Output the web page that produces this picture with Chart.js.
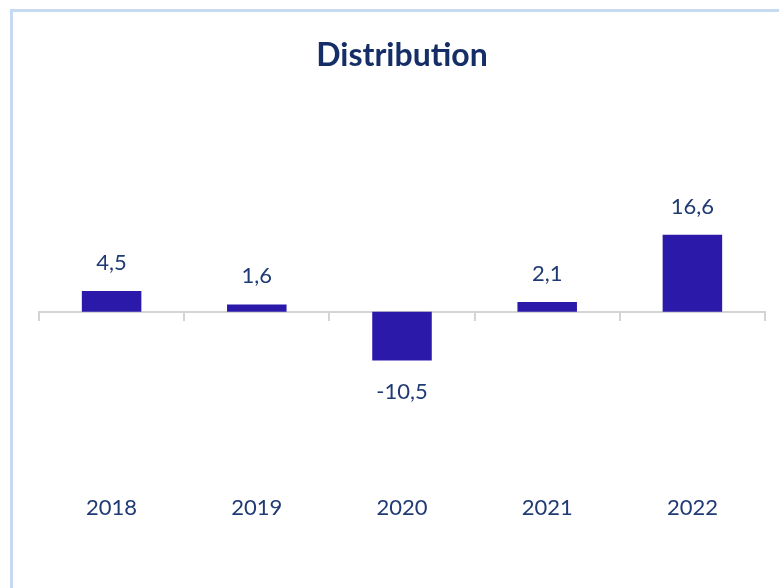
<!DOCTYPE html>
<html>
<head>
<meta charset="utf-8">
<script src="https://cdn.jsdelivr.net/npm/chart.js@4.4.1/dist/chart.umd.min.js"></script>
<style>
  html, body { margin: 0; padding: 0; background: #fff; }
  #wrap { position: relative; width: 779px; height: 588px; overflow: hidden; }
  #frame {
    position: absolute; left: 10px; top: 9px; width: 900px; height: 700px;
    border: 3px solid #c6daf1; box-sizing: border-box;
  }
  canvas { position: absolute; left: 0; top: 0; }
</style>
</head>
<body>
<div id="wrap">
  <div id="frame"></div>
  <canvas id="chart" width="779" height="588"></canvas>
</div>
<script>
// chart values
const years = ["2018", "2019", "2020", "2021", "2022"];
const values = [4.5, 1.6, -10.5, 2.1, 16.6];

const textColor = "#1f3a74";
const axisColor = "#d4d4d4";

// value labels above / below each bar, comma as decimal mark
const valueLabels = {
  id: "valueLabels",
  afterDatasetsDraw(chart) {
    const ctx = chart.ctx;
    const meta = chart.getDatasetMeta(0);
    ctx.save();
    ctx.font = "22px Lato";
    ctx.fillStyle = textColor;
    ctx.textAlign = "center";
    ctx.textBaseline = "middle";
    meta.data.forEach((bar, i) => {
      const v = values[i];
      const txt = v.toFixed(1).replace(".", ",");
      const y = v >= 0 ? bar.y - 28 : bar.y + 31;
      ctx.fillText(txt, bar.x, y);
    });
    ctx.restore();
  },
};

new Chart(document.getElementById("chart"), {
  type: "bar",
  data: {
    labels: years,
    datasets: [
      {
        data: values,
        backgroundColor: "#2b1aa9",
        borderWidth: 0,
        categoryPercentage: 1,
        barPercentage: 0.41,
      },
    ],
  },
  options: {
    responsive: false,
    animation: false,
    layout: { padding: { left: 39, right: 14, top: 0, bottom: 69 } },
    plugins: {
      legend: { display: false },
      tooltip: { enabled: false },
      title: {
        display: true,
        text: "Distribution",
        color: "#152f66",
        font: { family: "Lato", size: 32, weight: "bold", lineHeight: 1.2 },
        padding: { top: 36, bottom: 144.6 },
      },
    },
    scales: {
      y: {
        display: false,
        min: -40,
        max: 20,
      },
      x: {
        grid: { display: false, drawTicks: false },
        border: { display: false },
        ticks: {
          color: textColor,
          padding: -2.4,
          font: { family: "Lato", size: 22 },
        },
      },
      // zero line with tick marks between categories
      x2: {
        type: "category",
        axis: "x",
        labels: years,
        position: { y: 0 },
        offset: true,
        grid: {
          offset: true,
          drawOnChartArea: false,
          drawTicks: true,
          tickLength: 8,
          color: axisColor,
          lineWidth: 2,
        },
        border: { display: true, color: axisColor, width: 2 },
        ticks: { display: false },
      },
    },
  },
  plugins: [valueLabels],
});
</script>
</body>
</html>
